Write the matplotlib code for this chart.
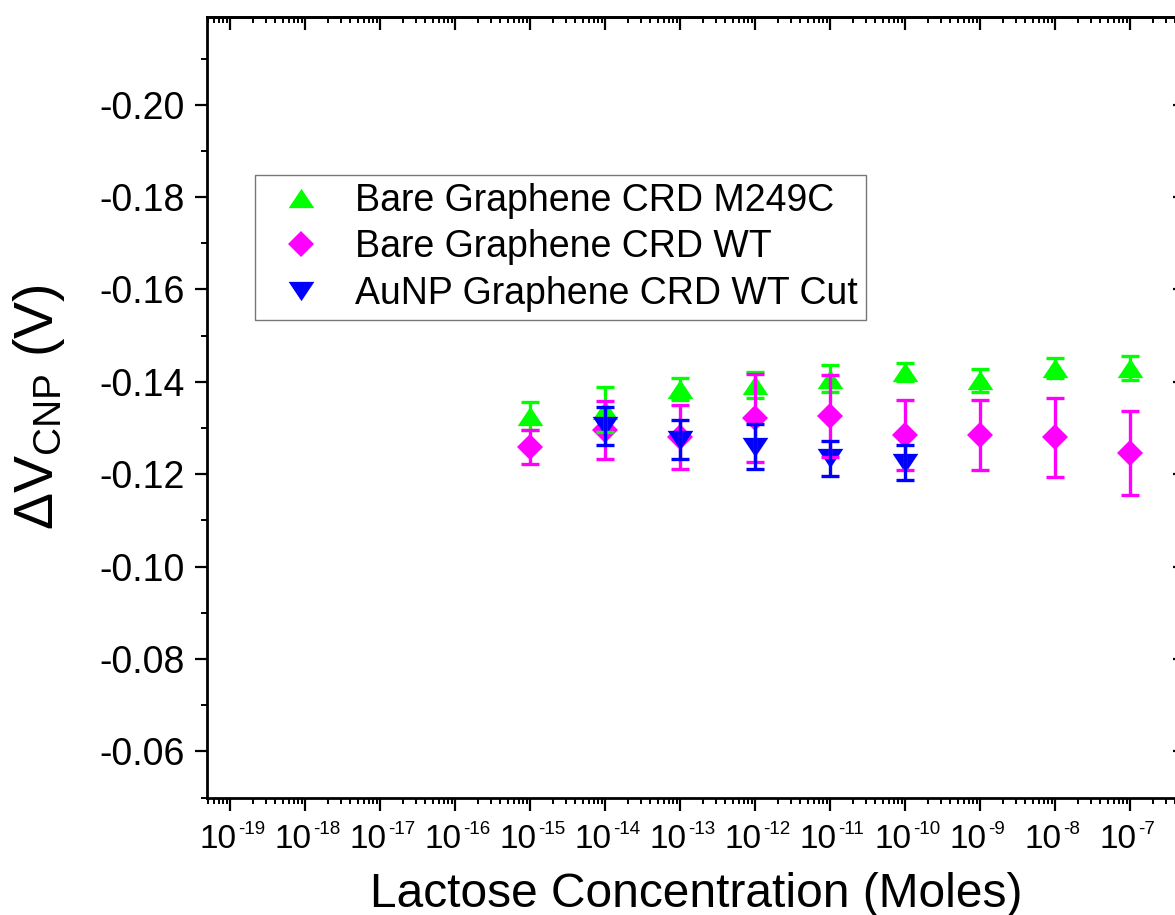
import numpy as np
import matplotlib
matplotlib.use("Agg")
import matplotlib.pyplot as plt
from matplotlib.ticker import LogLocator, NullFormatter, MultipleLocator, FormatStrFormatter

plt.rcParams['font.family'] = ['Liberation Sans', 'DejaVu Sans']
plt.rcParams['mathtext.fontset'] = 'custom'
plt.rcParams['mathtext.rm'] = 'Liberation Sans'
plt.rcParams['mathtext.it'] = 'Liberation Sans'
plt.rcParams['mathtext.bf'] = 'Liberation Sans:bold'

# data
conc = [1e-15, 1e-14, 1e-13, 1e-12, 1e-11, 1e-10, 1e-9, 1e-8, 1e-7]
conc_cut = [1e-14, 1e-13, 1e-12, 1e-11, 1e-10]
decades = list(range(-19, -6))

m249c = [-0.1326, -0.1340, -0.1384, -0.1394, -0.1407, -0.1421, -0.1403, -0.1430, -0.1430]
m249c_err = [0.0030, 0.0049, 0.0024, 0.0028, 0.0029, 0.0020, 0.0025, 0.0022, 0.0027]

wt = [-0.1259, -0.1295, -0.1280, -0.1321, -0.1326, -0.1285, -0.1285, -0.1280, -0.1246]
wt_err = [0.0036, 0.0063, 0.0069, 0.0095, 0.0088, 0.0075, 0.0075, 0.0085, 0.0091]

wt_cut = [-0.1305, -0.1275, -0.1260, -0.1235, -0.1225]
wt_cut_err = [0.0041, 0.0043, 0.0049, 0.0038, 0.0038]

labels = ["Bare Graphene CRD M249C", "Bare Graphene CRD WT", "AuNP Graphene CRD WT Cut"]
colors = ["#00FF00", "#FF00FF", "#0000FF"]

tri_up = [(-1, -0.75), (1, -0.75), (0, 0.75), (-1, -0.75)]
tri_down = [(-1, 0.75), (1, 0.75), (0, -0.75), (-1, 0.75)]

fig = plt.figure(figsize=(11.75, 9.15), dpi=100)
ax = fig.add_axes([0.1762, 0.1284, 0.8323, 0.853])

series = [
    (conc, m249c, m249c_err, tri_up, 18.5),
    (conc, wt, wt_err, "D", 13.5),
    (conc_cut, wt_cut, wt_cut_err, tri_down, 18.5),
]
for (xs, ys, es, mk, ms), lab, col in zip(series, labels, colors):
    ax.plot(xs, ys, linestyle="none", marker=mk, markersize=ms, color=col,
            markeredgewidth=0, label=lab, zorder=2)
for (xs, ys, es, mk, ms), col in zip(series, colors):
    ax.errorbar(xs, ys, yerr=es, fmt="none", ecolor=col, elinewidth=2.4,
                capsize=6.2, capthick=2.4, zorder=3)

ax.set_xscale("log")
ax.set_xlim(10 ** -19.31, 10 ** -6.27)
ax.set_ylim(-0.05, -0.219)

ax.xaxis.set_major_locator(LogLocator(base=10, numticks=40))
ax.xaxis.set_minor_locator(LogLocator(base=10, subs=np.arange(2, 10), numticks=200))
ax.xaxis.set_minor_formatter(NullFormatter())
ax.xaxis.set_major_formatter(NullFormatter())
ax.yaxis.set_major_locator(MultipleLocator(0.02))
ax.yaxis.set_minor_locator(MultipleLocator(0.01))
ax.yaxis.set_major_formatter(FormatStrFormatter("%.2f"))

for s in ax.spines.values():
    s.set_linewidth(2)
ax.tick_params(which="major", direction="out", length=9, width=1.6, labelsize=27, pad=7)
ax.tick_params(which="minor", direction="out", length=4.5, width=1.4)

# x tick labels: "10" with a small raised exponent
xtr = ax.get_xaxis_transform()
for d in decades:
    ax.annotate("10", xy=(10.0 ** d, 0), xycoords=xtr, xytext=(4.8, -36.6),
                textcoords="offset points", ha="right", va="baseline",
                fontsize=24, annotation_clip=False)
    ax.annotate("%d" % d, xy=(10.0 ** d, 0), xycoords=xtr, xytext=(5.4, -26.4),
                textcoords="offset points", ha="left", va="baseline",
                fontsize=13.5, annotation_clip=False)

top = ax.secondary_xaxis("top")
top.xaxis.set_major_locator(LogLocator(base=10, numticks=40))
top.xaxis.set_minor_locator(LogLocator(base=10, subs=np.arange(2, 10), numticks=200))
top.tick_params(which="major", direction="in", length=9, width=1.6, labeltop=False)
top.tick_params(which="minor", direction="in", length=4.5, width=1.4)
top.spines["top"].set_linewidth(2)

right = ax.secondary_yaxis("right")
right.yaxis.set_major_locator(MultipleLocator(0.02))
right.yaxis.set_minor_locator(MultipleLocator(0.01))
right.tick_params(which="major", direction="in", length=9, width=1.6, labelright=False)
right.tick_params(which="minor", direction="in", length=4.5, width=1.4)
right.spines["right"].set_linewidth(2)

ax.set_xlabel("Lactose Concentration (Moles)", fontsize=34.5, va="baseline")
ax.xaxis.set_label_coords(0.5, -0.14)
ax.set_ylabel(r"$\Delta$V$_{\mathregular{CNP}}$ (V)", fontsize=40, va="baseline")
ax.yaxis.set_label_coords(-0.1575, 0.5)

leg = ax.legend(loc="upper left", bbox_to_anchor=(0.049, 0.798), borderaxespad=0,
                fontsize=27, frameon=True, fancybox=False, numpoints=1,
                handlelength=2.02, handletextpad=0.43, labelspacing=0.28,
                borderpad=0.22)
leg.get_frame().set_edgecolor("#555555")
leg.get_frame().set_linewidth(1.0)

fig.savefig("out.png", dpi=100)
